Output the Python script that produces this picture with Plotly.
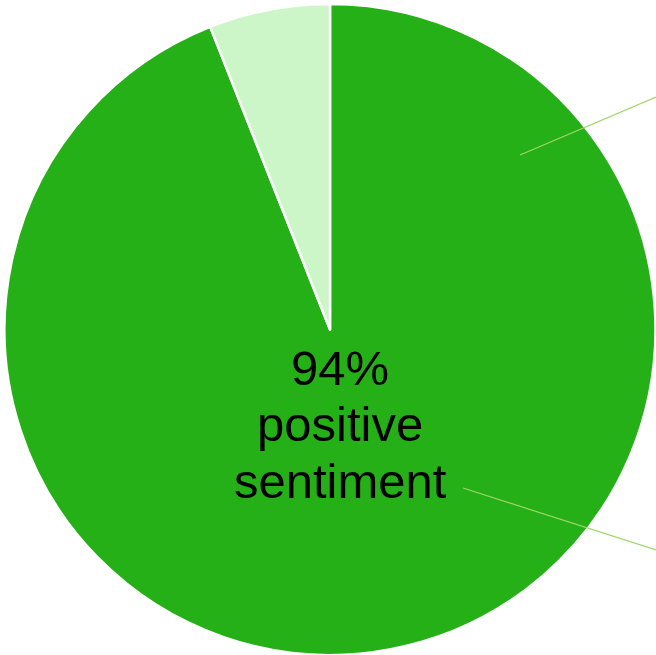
import plotly.graph_objects as go

labels = ["Positive", "Negative"]
values = [94, 6]
colors = ["#25b017", "#ccf6c8"]
center_lines = ["94%", "positive", "sentiment"]

W, H = 656, 655

def px(x, y):
    return x / W, (H - y) / H

fig = go.Figure(go.Pie(
    labels=labels,
    values=values,
    sort=False,
    direction="clockwise",
    rotation=0,
    marker=dict(colors=colors, line=dict(color="white", width=2.5)),
    textinfo="none",
    hoverinfo="label+percent",
    showlegend=False,
    domain=dict(x=[4 / W, 1], y=[0, 651 / H]),
))

font_size = 49
baselines = [385, 441.5, 498]
for line, base in zip(center_lines, baselines):
    ax, ay = px(340, base - 0.356 * font_size)
    fig.add_annotation(x=ax, y=ay, xref="paper", yref="paper", text=line,
                       showarrow=False, xanchor="center", yanchor="middle",
                       font=dict(family="Liberation Sans, Arial", size=font_size, color="black"))

for (x0, y0, x1, y1) in [(520, 155, 656, 97), (463, 488, 656, 550)]:
    a0, b0 = px(x0, y0)
    a1, b1 = px(x1, y1)
    fig.add_shape(type="line", xref="paper", yref="paper", x0=a0, y0=b0, x1=a1, y1=b1,
                  line=dict(color="#9fd669", width=1.2))

fig.update_layout(width=W, height=H, margin=dict(l=0, r=0, t=0, b=0),
                  paper_bgcolor="white", plot_bgcolor="white")
fig.write_html("out.html")
